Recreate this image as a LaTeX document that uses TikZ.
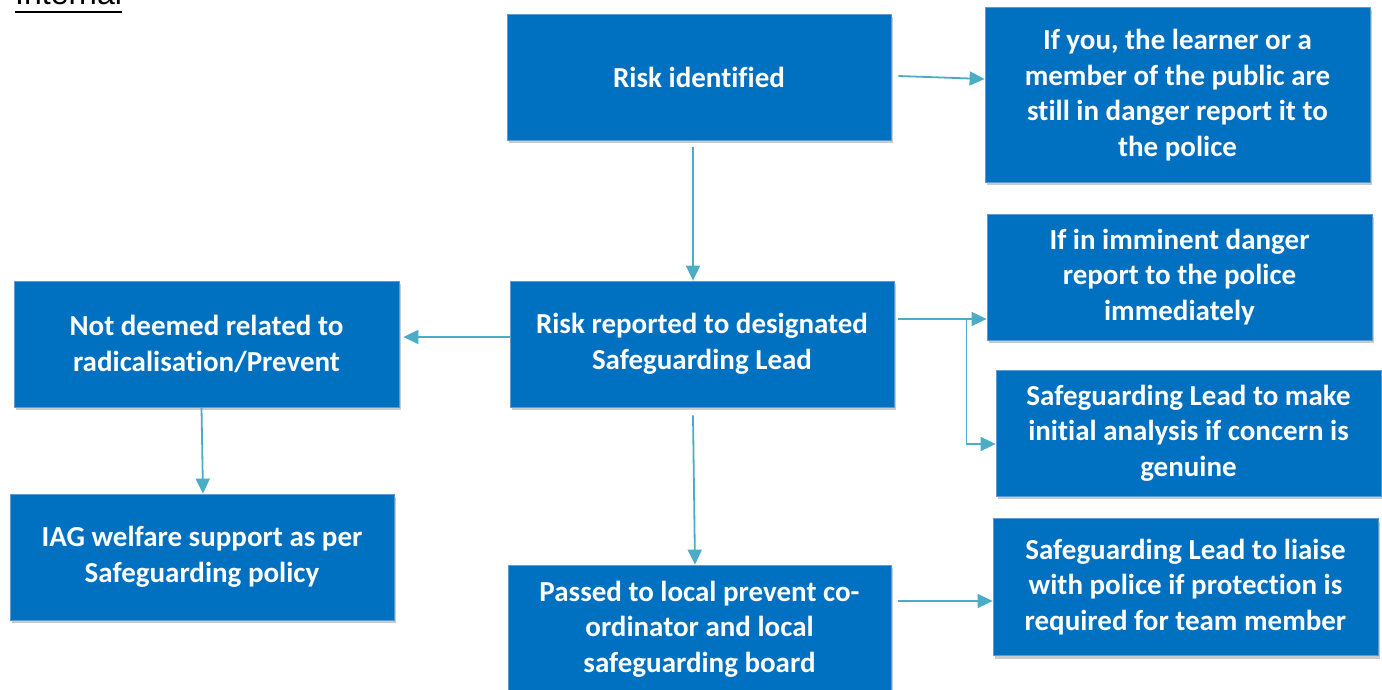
\documentclass[tikz,border=0pt]{standalone}
\usepackage{fontspec}
\setmainfont{Carlito}[Ligatures={NoCommon}]
\newfontfamily\arialfont{Liberation Sans}
\usetikzlibrary{arrows.meta,calc,shadows}
\definecolor{boxblue}{HTML}{0070C0}
\definecolor{boxedge}{HTML}{5B9BD5}
\definecolor{arrowc}{HTML}{4BACC6}
\tikzset{
  flowbox/.style={rectangle, fill=boxblue, draw=boxedge, line width=0.8pt, text=white,
    font=\fontsize{29}{35.5}\selectfont\bfseries, align=center, inner sep=0pt,
    drop shadow={shadow xshift=2pt, shadow yshift=-3pt, opacity=0.35, fill=black!60}},
  arr/.style={draw=arrowc, line width=1.8pt, -{Triangle[length=15pt,width=14pt]}},
  plainline/.style={draw=arrowc, line width=1.8pt}
}
\begin{document}
\begin{tikzpicture}[x=1pt,y=-1pt]
\useasboundingbox (0,0) rectangle (1382,690);
% Internal label (cut off at top)
\node[font=\arialfont\fontsize{32}{36}\selectfont, anchor=base west, inner sep=0pt] (intl) at (15,5) {Internal};
\draw[line width=2.2pt] ($(intl.base west)+(0,7)$) coordinate (ul1) -- ($(intl.base east)+(0,7)$) coordinate (ul2);
% boxes
\node[flowbox, minimum width=384pt, minimum height=126pt] (risk) at (699,77) {Risk identified};
\node[flowbox, minimum width=385pt, minimum height=175pt] (police) at (1177.5,95) {If you, the learner or a\\member of the public are\\still in danger report it to\\the police};
\node[flowbox, minimum width=385pt, minimum height=126pt] (imminent) at (1179.5,277) {If in imminent danger\\report to the police\\immediately};
\node[flowbox, minimum width=384pt, minimum height=126pt] (reported) at (702,344) {Risk reported to designated\\Safeguarding Lead};
\node[flowbox, minimum width=385pt, minimum height=126pt] (notdeemed) at (206.5,344) {Not deemed related to\\radicalisation/Prevent};
\node[flowbox, minimum width=385pt, minimum height=126pt] (initial) at (1188.5,433) {Safeguarding Lead to make\\initial analysis if concern is\\genuine};
\node[flowbox, minimum width=384pt, minimum height=126pt] (iag) at (202,557) {IAG welfare support as per\\Safeguarding policy};
\node[flowbox, minimum width=383pt, minimum height=128pt] (passed) at (699.5,629) {Passed to local prevent co-\\ordinator and local\\safeguarding board};
\node[flowbox, minimum width=385pt, minimum height=137pt] (liaise) at (1185.5,587) {Safeguarding Lead to liaise\\with police if protection is\\required for team member};
% connectors
\draw[arr] ($(risk.east)+(7,-1)$) -- ($(police.west)+(0,-16)$);
\draw[arr] ($(risk.south)+(-6,7)$) -- ($(reported.north)+(-9,0)$);
\draw[arr] ($(reported.east)+(4,-25)$) -- ($(imminent.west)+(0,42)$);
\coordinate (branch) at ($(reported.east)+(72,-25)$);
\draw[arr] (branch) |- ($(initial.west)+(0,11)$);
\draw[arr] ($(reported.west)+(0,-7)$) -- ($(notdeemed.east)+(4,-7)$);
\draw[arr] ($(notdeemed.south)+(-5,0)$) -- ($(iag.north)+(1,0)$);
\draw[arr] ($(reported.south)+(-9,8)$) -- ($(passed.north)+(-4.5,0)$);
\draw[arr] ($(passed.east)+(7,-28)$) -- ($(liaise.west)+(0,14)$);
\end{tikzpicture}
\end{document}
